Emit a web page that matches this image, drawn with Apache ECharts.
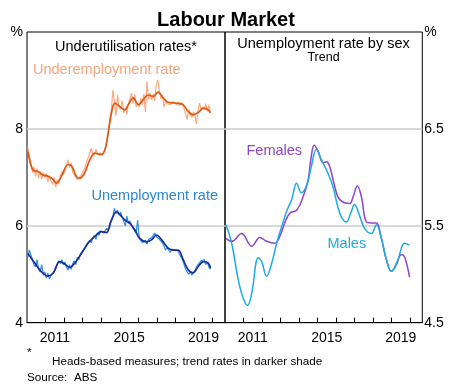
<!DOCTYPE html>
<html>
<head>
<meta charset="utf-8">
<script src="https://cdn.jsdelivr.net/npm/echarts@6/dist/echarts.min.js"></script>
<style>
  html, body { margin: 0; padding: 0; background: #fff; }
  #chart { width: 452px; height: 385px; }
</style>
</head>
<body>
<div id="chart"></div>
<script>
// Monthly series start in January 2010
const startYear = 2010;

// Underemployment rate, monthly (%)
const underRaw = [
  7.62, 7.45, 7.30, 7.10, 7.22, 7.02, 7.18, 6.98, 7.12, 6.96, 7.10, 7.00,
  7.08, 6.90, 7.04, 6.93, 6.86, 7.00, 6.80, 6.94, 6.86, 7.02, 7.12, 7.05,
  7.15, 7.25, 7.36, 7.20, 7.30, 7.10, 7.05, 7.00, 6.95, 6.98, 7.02, 7.08,
  7.05, 7.20, 7.32, 7.40, 7.50, 7.60, 7.50, 7.45, 7.58, 7.48, 7.44, 7.50,
  7.45, 7.52, 7.60, 7.75, 7.95, 8.20, 8.40, 8.80, 8.55, 8.27, 8.70, 8.45,
  8.40, 8.58, 8.33, 8.44, 8.30, 8.52, 8.62, 8.74, 8.52, 8.72, 8.46, 8.52,
  8.45, 8.64, 8.50, 8.72, 8.35, 8.98, 8.60, 8.74, 8.60, 8.72, 8.58, 8.91,
  9.01, 8.80, 8.62, 8.70, 8.45, 8.58, 8.52, 8.55, 8.50, 8.56, 8.52, 8.55,
  8.50, 8.56, 8.48, 8.55, 8.50, 8.42, 8.38, 8.19, 8.40, 8.30, 8.24, 8.35,
  8.28, 8.10, 8.40, 8.53, 8.38, 8.45, 8.40, 8.52, 8.36, 8.50, 8.32
];

// Unemployment rate, monthly (%)
const unempRaw = [
  5.35, 5.50, 5.40, 5.30, 5.20, 5.15, 5.30, 5.10, 5.05, 5.20, 4.98, 5.05,
  4.92, 5.02, 4.90, 4.98, 4.94, 5.05, 5.10, 5.20, 5.28, 5.22, 5.30, 5.20,
  5.25, 5.15, 5.08, 5.20, 5.10, 5.22, 5.28, 5.20, 5.35, 5.30, 5.42, 5.45,
  5.50, 5.55, 5.62, 5.58, 5.70, 5.65, 5.75, 5.80, 5.72, 5.85, 5.80, 5.90,
  5.92, 5.85, 5.88, 5.95, 5.90, 6.05, 6.10, 6.20, 6.36, 6.25, 6.32, 6.22,
  6.28, 6.18, 6.15, 6.00, 6.20, 6.05, 6.10, 6.02, 5.95, 5.90, 5.85, 6.12,
  5.75, 5.70, 5.65, 5.68, 5.70, 5.62, 5.72, 5.68, 5.75, 5.80, 5.85, 5.78,
  5.82, 5.72, 5.75, 5.65, 5.58, 5.50, 5.55, 5.50, 5.45, 5.52, 5.55, 5.50,
  5.52, 5.48, 5.45, 5.35, 5.30, 5.20, 5.10, 5.05, 5.00, 5.05, 4.98, 5.02,
  5.08, 5.15, 5.20, 5.22, 5.28, 5.25, 5.30, 5.20, 5.25, 5.15, 5.10
];

// Underemployment rate, trend
const underTrendDates = [
  2010.05, 2010.32, 2010.6, 2010.86, 2011.13, 2011.4, 2011.58, 2011.85, 2012.2, 2012.4,
  2012.66, 2012.84, 2013.1, 2013.38, 2013.65, 2014.0, 2014.2, 2014.37, 2014.55, 2014.73,
  2015.0, 2015.27, 2015.45, 2015.72, 2016.0, 2016.25, 2016.52, 2016.8, 2017.06, 2017.33,
  2017.6, 2018.05, 2018.4, 2018.68, 2018.95, 2019.22, 2019.5, 2019.76, 2019.88
];
const underTrendValues = [
  7.53, 7.15, 7.12, 7.05, 7.02, 6.96, 6.88, 7.02, 7.26, 7.24,
  7.02, 6.98, 7.09, 7.36, 7.50, 7.47, 7.57, 7.91, 8.33, 8.53,
  8.46, 8.39, 8.50, 8.64, 8.50, 8.60, 8.70, 8.67, 8.76, 8.64,
  8.55, 8.53, 8.50, 8.36, 8.29, 8.34, 8.43, 8.39, 8.33
];

// Unemployment rate, trend
const unempTrendDates = [
  2010.05, 2010.42, 2010.78, 2011.13, 2011.4, 2011.76, 2012.03, 2012.3, 2012.57, 2012.93,
  2013.29, 2013.65, 2014.0, 2014.28, 2014.55, 2014.82, 2015.0, 2015.27, 2015.54, 2015.8,
  2016.07, 2016.44, 2016.7, 2016.97, 2017.25, 2017.6, 2017.87, 2018.14, 2018.41, 2018.68,
  2018.95, 2019.22, 2019.5, 2019.76, 2019.88
];
const unempTrendValues = [
  5.43, 5.23, 5.05, 4.96, 5.02, 5.26, 5.21, 5.14, 5.23, 5.43,
  5.64, 5.78, 5.88, 5.86, 6.12, 6.29, 6.23, 6.12, 6.05, 5.92,
  5.74, 5.67, 5.71, 5.81, 5.71, 5.54, 5.50, 5.50, 5.30, 5.09,
  5.03, 5.16, 5.26, 5.23, 5.12
];

// Unemployment rate by sex, trend
const femaleDates = [
  2010.05, 2010.36, 2010.9, 2011.44, 2011.89, 2012.25, 2012.7, 2012.96, 2013.23, 2013.5,
  2013.87, 2014.22, 2014.49, 2014.65, 2014.82, 2015.03, 2015.3, 2015.48, 2015.66, 2015.95,
  2016.2, 2016.74, 2016.92, 2017.15, 2017.37, 2017.64, 2017.91, 2018.18, 2018.45, 2018.72,
  2018.99, 2019.26, 2019.52, 2019.7, 2019.97
];
const femaleValues = [
  5.37, 5.34, 5.42, 5.29, 5.38, 5.34, 5.32, 5.39, 5.53, 5.63,
  5.66, 5.80, 5.97, 6.20, 6.33, 6.27, 6.15, 6.16, 6.11, 5.89,
  5.77, 5.73, 5.80, 5.91, 5.80, 5.54, 5.53, 5.53, 5.37, 5.15,
  5.03, 5.10, 5.20, 5.18, 4.97
];
const maleDates = [
  2010.05, 2010.36, 2010.72, 2010.99, 2011.22, 2011.44, 2011.8, 2011.98, 2012.25, 2012.52,
  2012.79, 2013.06, 2013.33, 2013.6, 2013.87, 2014.13, 2014.42, 2014.65, 2014.94, 2015.21,
  2015.57, 2015.84, 2016.2, 2016.56, 2016.79, 2017.0, 2017.28, 2017.55, 2017.91, 2018.18,
  2018.45, 2018.72, 2018.99, 2019.34, 2019.7, 2019.97
];
const maleValues = [
  5.51, 5.32, 4.94, 4.75, 4.68, 4.80, 5.17, 5.13, 4.98, 5.11,
  5.32, 5.49, 5.65, 5.77, 5.94, 5.84, 5.92, 6.10, 6.29, 6.18,
  6.04, 5.90, 5.63, 5.54, 5.63, 5.72, 5.60, 5.47, 5.42, 5.51,
  5.37, 5.15, 5.03, 5.15, 5.32, 5.30
];

// Axis ticks and labels
const yearTicks = [2011, 2012, 2013, 2014, 2015, 2016, 2017, 2018, 2019, 2020];
const yearLabels = [2011, 2015, 2019];

const FONT = 'Liberation Sans, Arial, sans-serif';
const X_MIN = 2010, X_MAX = 2020.66;

const monthDates = n => Array.from({ length: n }, (_, i) => startYear + (i + 0.5) / 12);
const pairs = (xs, ys) => xs.map((x, i) => [x, ys[i]]);

const chart = echarts.init(document.getElementById('chart'), null, { renderer: 'canvas' });

function xAxisFor(gridIndex) {
  return {
    type: 'value', gridIndex, min: X_MIN, max: X_MAX,
    axisLine: { show: true, lineStyle: { color: '#000', width: 1 } },
    axisTick: { show: true, inside: true, length: 5, customValues: yearTicks, lineStyle: { color: '#000', width: 1 } },
    axisLabel: {
      customValues: yearLabels.map(y => y + 0.5),
      formatter: v => String(Math.floor(v)),
      fontSize: 14, color: '#000', fontFamily: FONT, margin: 8
    },
    splitLine: { show: false }
  };
}

const gridLine = { show: true, showMinLine: false, showMaxLine: false, lineStyle: { color: '#cbcbcb', width: 1.5 } };

const option = {
  animation: false,
  backgroundColor: '#fff',
  title: {
    text: 'Labour Market', left: 'center', top: 5,
    textStyle: { fontSize: 20, fontWeight: 'bold', color: '#000', fontFamily: FONT }
  },
  grid: [
    { left: 27, top: 32, width: 198, height: 290.7, show: true, borderColor: '#000', borderWidth: 1, backgroundColor: 'transparent' },
    { left: 225, top: 32, width: 197.3, height: 290.7, show: true, borderColor: '#000', borderWidth: 1, backgroundColor: 'transparent' }
  ],
  xAxis: [xAxisFor(0), xAxisFor(1)],
  yAxis: [
    {
      type: 'value', gridIndex: 0, min: 4, max: 10, interval: 2, position: 'left',
      axisLine: { show: false }, axisTick: { show: false },
      axisLabel: { fontSize: 14, color: '#000', fontFamily: FONT, margin: 4, formatter: v => v === 10 ? '%' : String(v) },
      splitLine: gridLine
    },
    {
      type: 'value', gridIndex: 1, min: 4.5, max: 7.5, interval: 1, position: 'right',
      axisLine: { show: false }, axisTick: { show: false },
      axisLabel: { fontSize: 14, color: '#000', fontFamily: FONT, margin: 2, formatter: v => v === 7.5 ? '%' : v.toFixed(1) },
      splitLine: gridLine
    }
  ],
  graphic: [
    { type: 'text', x: 126, y: 47, style: { text: 'Underutilisation rates*', fontSize: 14.5, fontFamily: FONT, fill: '#000', align: 'center', verticalAlign: 'middle' } },
    { type: 'text', x: 323.5, y: 44, style: { text: 'Unemployment rate by sex', fontSize: 14.5, fontFamily: FONT, fill: '#000', align: 'center', verticalAlign: 'middle' } },
    { type: 'text', x: 323.5, y: 57.5, style: { text: 'Trend', fontSize: 12.5, fontFamily: FONT, fill: '#000', align: 'center', verticalAlign: 'middle' } },
    { type: 'text', x: 33, y: 70, style: { text: 'Underemployment rate', fontSize: 14.5, fontFamily: FONT, fill: '#f5a47c', align: 'left', verticalAlign: 'middle' } },
    { type: 'text', x: 91.5, y: 196, style: { text: 'Unemployment rate', fontSize: 14.5, fontFamily: FONT, fill: '#2a86d8', align: 'left', verticalAlign: 'middle' } },
    { type: 'text', x: 246.5, y: 151, style: { text: 'Females', fontSize: 14.5, fontFamily: FONT, fill: '#8f45c6', align: 'left', verticalAlign: 'middle' } },
    { type: 'text', x: 327.5, y: 243.5, style: { text: 'Males', fontSize: 14.5, fontFamily: FONT, fill: '#1ea9e3', align: 'left', verticalAlign: 'middle' } },
    { type: 'text', x: 27, y: 353, style: { text: '*', fontSize: 11.7, fontFamily: FONT, fill: '#000', align: 'left', verticalAlign: 'middle' } },
    { type: 'text', x: 52, y: 361.5, style: { text: 'Heads-based measures; trend rates in darker shade', fontSize: 11.7, fontFamily: FONT, fill: '#000', align: 'left', verticalAlign: 'middle' } },
    { type: 'text', x: 27, y: 378, style: { text: 'Source:', fontSize: 11.7, fontFamily: FONT, fill: '#000', align: 'left', verticalAlign: 'middle' } },
    { type: 'text', x: 74, y: 378, style: { text: 'ABS', fontSize: 11.7, fontFamily: FONT, fill: '#000', align: 'left', verticalAlign: 'middle' } }
  ],
  series: [
    {
      name: 'Underemployment rate', type: 'line', xAxisIndex: 0, yAxisIndex: 0,
      data: pairs(monthDates(underRaw.length), underRaw), showSymbol: false,
      lineStyle: { color: '#f9a983', width: 1.2 }, z: 2
    },
    {
      name: 'Underemployment rate (trend)', type: 'line', xAxisIndex: 0, yAxisIndex: 0,
      data: pairs(underTrendDates, underTrendValues), showSymbol: false, smooth: 0.35,
      lineStyle: { color: '#dc5a12', width: 1.7 }, z: 3
    },
    {
      name: 'Unemployment rate', type: 'line', xAxisIndex: 0, yAxisIndex: 0,
      data: pairs(monthDates(unempRaw.length), unempRaw), showSymbol: false,
      lineStyle: { color: '#2f8fe0', width: 1.2 }, z: 2
    },
    {
      name: 'Unemployment rate (trend)', type: 'line', xAxisIndex: 0, yAxisIndex: 0,
      data: pairs(unempTrendDates, unempTrendValues), showSymbol: false, smooth: 0.35,
      lineStyle: { color: '#1a2c9c', width: 1.7 }, z: 3
    },
    {
      name: 'Females', type: 'line', xAxisIndex: 1, yAxisIndex: 1,
      data: pairs(femaleDates, femaleValues), showSymbol: false, smooth: 0.4,
      lineStyle: { color: '#8f45c6', width: 1.5 }, z: 3
    },
    {
      name: 'Males', type: 'line', xAxisIndex: 1, yAxisIndex: 1,
      data: pairs(maleDates, maleValues), showSymbol: false, smooth: 0.4,
      lineStyle: { color: '#1ea9e3', width: 1.5 }, z: 3
    }
  ]
};

chart.setOption(option);
</script>
</body>
</html>
